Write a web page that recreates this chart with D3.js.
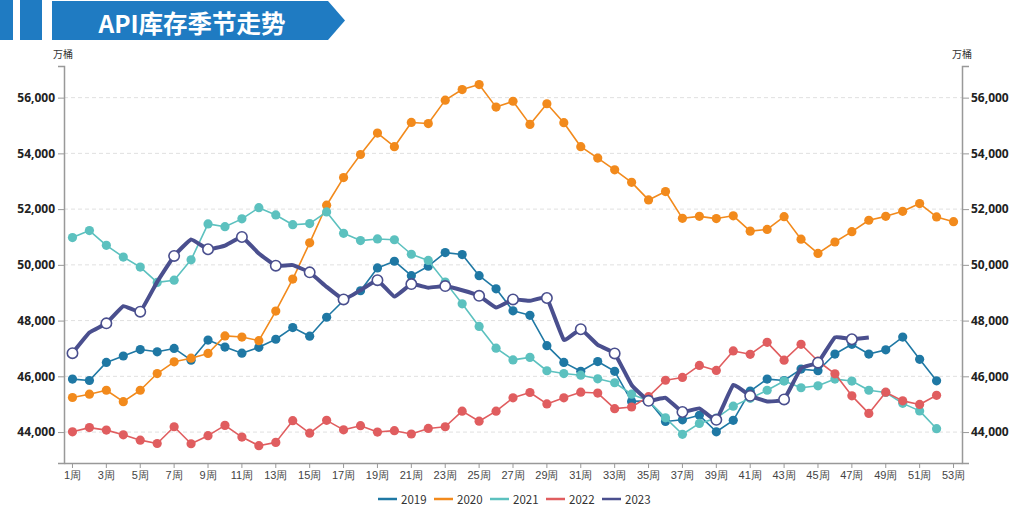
<!DOCTYPE html>
<html><head><meta charset="utf-8">
<script src="https://cdn.jsdelivr.net/npm/d3@7"></script>
<style>
html,body{margin:0;padding:0;background:#fff;}
svg{display:block;font-family:"Noto Sans CJK SC","Noto Sans",sans-serif;}
</style></head>
<body>
<svg id="chart" width="1012" height="506"></svg>
<script>
const weeks = d3.range(1, 54).map(w => w + "周");
const yTicks = [44000, 46000, 48000, 50000, 52000, 54000, 56000];
const seriesNames = ["2019", "2020", "2021", "2022", "2023"];
const colors = ["#1f78a4", "#f28a1c", "#5cc1bf", "#e05d5f", "#4a4f8e"];

const v2019 = [45900,45850,46500,46730,46960,46880,47000,46580,47300,47050,
  46830,47040,47330,47750,47440,48120,48720,49070,49890,50130,
  49610,49950,50440,50370,49610,49140,48350,48190,47100,46500,
  46180,46530,46180,45100,45120,44380,44440,44600,44010,44420,
  45470,45900,45850,46260,46200,46800,47150,46800,46950,47410,
  46610,45840];
const v2020 = [45240,45360,45500,45090,45500,46100,46520,46650,46820,47450,
  47410,47280,48340,49490,50790,52140,53130,53960,54730,54240,
  55110,55070,55910,56290,56470,55660,55870,55040,55780,55100,
  54240,53830,53410,52960,52330,52630,51670,51740,51660,51760,
  51210,51270,51730,50920,50410,50820,51190,51600,51740,51920,
  52200,51720,51550];
const v2021 = [50980,51230,50700,50280,49920,49370,49450,50180,51470,51370,
  51650,52050,51790,51440,51480,51900,51130,50870,50930,50900,
  50380,50160,49380,48600,47790,47010,46590,46680,46200,46100,
  46040,45910,45770,45360,45120,44510,43920,44310,44500,44930,
  45210,45500,45830,45590,45660,45900,45830,45500,45420,45030,
  44760,44120];
const v2022 = [44010,44160,44070,43900,43710,43590,44190,43580,43870,44240,
  43820,43510,43630,44410,43960,44420,44080,44230,44000,44050,
  43930,44130,44190,44750,44390,44750,45230,45420,45010,45230,
  45430,45400,44840,44900,45270,45860,45960,46390,46210,46910,
  46790,47220,46580,47150,46550,46090,45300,44670,45430,45120,
  44990,45320];
const v2023 = [46830,47570,47900,48520,48320,49390,50320,50910,50560,50690,
  51000,50410,49970,49990,49730,49210,48760,49090,49450,48860,
  49310,49180,49240,49090,48890,48470,48760,48710,48810,47310,
  47690,47130,46820,45690,45120,45230,44720,44850,44440,45690,
  45300,45100,45170,46290,46490,47400,47330,47390];
const allSeries = [v2019, v2020, v2021, v2022, v2023];

const svg = d3.select("#chart");

// Title banner
const blue = "#1f7bc2";
svg.append("rect").attr("x", 0).attr("y", 0).attr("width", 13).attr("height", 40).attr("fill", blue);
svg.append("rect").attr("x", 20).attr("y", 0).attr("width", 22).attr("height", 40).attr("fill", blue);
svg.append("path").attr("d", "M52,1 L328,1 L345,20.5 L328,40 L52,40 Z").attr("fill", blue);
svg.append("text").attr("x", 192).attr("y", 22).attr("text-anchor", "middle")
  .attr("dominant-baseline", "central").attr("fill", "#fff")
  .attr("font-size", 24.5).attr("font-weight", "bold").text("API库存季节走势");

const pLeft = 64, pRight = 962, pTop = 66, pBottom = 463;
const x = d3.scaleBand().domain(weeks).range([pLeft, pRight]);
const y = d3.scaleLinear().domain([42890, 57135]).range([pBottom, pTop]);
const cx = i => x(weeks[i]) + x.bandwidth() / 2;

// grid
svg.append("g").selectAll("line").data(yTicks).join("line")
  .attr("x1", pLeft).attr("x2", pRight).attr("y1", d => y(d)).attr("y2", d => y(d))
  .attr("stroke", "#e0e0e0").attr("stroke-dasharray", "4,3").attr("stroke-width", 1);

// axes
const fmt = d3.format(",");
const gl = svg.append("g").attr("transform", `translate(${pLeft},0)`)
  .call(d3.axisLeft(y).tickValues(yTicks).tickFormat(fmt).tickSize(6).tickPadding(3));
const gr = svg.append("g").attr("transform", `translate(${pRight},0)`)
  .call(d3.axisRight(y).tickValues(yTicks).tickFormat(fmt).tickSize(7).tickPadding(2));
[gl, gr].forEach(g => {
  g.select(".domain").attr("stroke", "#999").attr("stroke-width", 1.5);
  g.selectAll(".tick line").attr("stroke", "#999");
  g.selectAll(".tick text").attr("font-size", 12).attr("font-weight", "bold")
    .attr("fill", "#222").attr("font-family", "'Open Sans','Noto Sans',sans-serif");
});

const gx = svg.append("g").attr("transform", `translate(0,${pBottom})`)
  .call(d3.axisBottom(x).tickValues(weeks.filter((d, i) => i % 2 === 0)).tickSize(5).tickPadding(3).tickSizeOuter(0));
gx.select(".domain").attr("stroke", "#999").attr("stroke-width", 1.5);
gx.selectAll(".tick line").attr("stroke", "#999");
gx.selectAll(".tick text").attr("font-size", 11).attr("fill", "#444");

// unit labels
svg.append("text").attr("x", 53).attr("y", 53).attr("dominant-baseline", "central")
  .attr("font-size", 10).attr("fill", "#333").text("万桶");
svg.append("text").attr("x", 952).attr("y", 53).attr("dominant-baseline", "central")
  .attr("font-size", 10).attr("fill", "#333").text("万桶");

// series
allSeries.forEach((vals, si) => {
  const is23 = si === 4;
  const line = d3.line().x((d, i) => cx(i)).y(d => y(d))
    .curve(is23 ? d3.curveCardinal.tension(0.7) : d3.curveLinear);
  const g = svg.append("g");
  g.append("path").attr("d", line(vals)).attr("fill", "none")
    .attr("stroke", colors[si]).attr("stroke-width", is23 ? 4 : 1.6)
    .attr("stroke-linejoin", "round");
  const pts = vals.map((d, i) => ({d, i})).filter(p => !is23 || p.i % 2 === 0);
  g.selectAll("circle").data(pts).join("circle")
    .attr("cx", p => cx(p.i)).attr("cy", p => y(p.d))
    .attr("r", is23 ? 5.2 : 4.6)
    .attr("fill", is23 ? "#fff" : colors[si])
    .attr("stroke", is23 ? colors[si] : "none").attr("stroke-width", 1.6);
});

// legend
const legX = [378, 434, 490, 546, 602];
const lg = svg.append("g");
seriesNames.forEach((n, i) => {
  lg.append("line").attr("x1", legX[i]).attr("x2", legX[i] + 19).attr("y1", 499).attr("y2", 499)
    .attr("stroke", colors[i]).attr("stroke-width", 2.5);
  lg.append("text").attr("x", legX[i] + 23).attr("y", 499).attr("dominant-baseline", "central")
    .attr("font-size", 11.5).attr("fill", "#333").text(n);
});
</script>
</body></html>
